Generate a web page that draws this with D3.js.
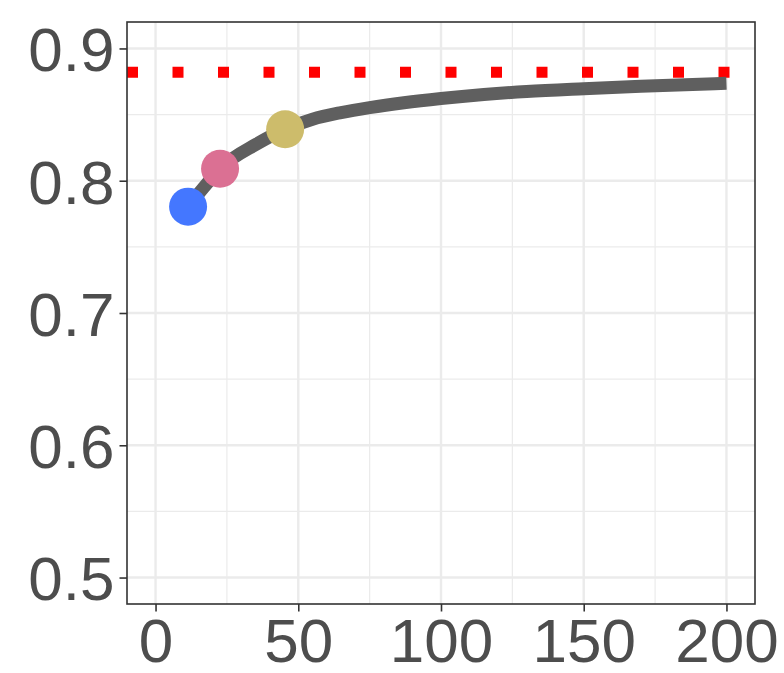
<!DOCTYPE html>
<html>
<head>
<meta charset="utf-8">
<script src="https://cdn.jsdelivr.net/npm/d3@7"></script>
<style>
  body { margin: 0; background: #fff; }
  .axis text { font-family: "Liberation Sans", Arial, sans-serif; }
</style>
</head>
<body>
<div class="chart"></div>
<script>
// curve
const curveX = [11.4, 16.9, 22.6, 35.5, 45.4, 55, 65, 75, 87, 100, 115, 130, 150, 170, 200];
const curveY = [0.7804, 0.795, 0.8091, 0.8278, 0.8389, 0.8465, 0.8515, 0.8553, 0.859, 0.8622, 0.8652, 0.8675, 0.8696, 0.8714, 0.8737];

// highlighted points
const pointX = [11.4, 22.6, 45.4];
const pointY = [0.7804, 0.8091, 0.8389];
const pointColors = ["#4477ff", "#db7093", "#cdbc6b"];

// reference level (red dotted)
const refLevel = 0.882;

const xTicks = [0, 50, 100, 150, 200];
const xMinor = [25, 75, 125, 175];
const yTicks = [0.5, 0.6, 0.7, 0.8, 0.9];
const yMinor = [0.55, 0.65, 0.75, 0.85];

function renderChart() {
    const width = 784, height = 673;
    const panel = {left: 127, right: 755, top: 22, bottom: 604};

    const xScale = d3.scaleLinear()
        .domain([-10, 210])
        .range([panel.left, panel.right]);

    const yScale = d3.scaleLinear()
        .domain([0.48, 0.92])
        .range([panel.bottom, panel.top]);

    const svg = d3.select(".chart").append("svg")
        .attr("width", width)
        .attr("height", height);

    // grid
    const grid = svg.append("g");
    grid.selectAll(".xminor").data(xMinor).enter().append("line")
        .attr("x1", d => xScale(d)).attr("x2", d => xScale(d))
        .attr("y1", panel.top).attr("y2", panel.bottom)
        .attr("stroke", "#ebebeb").attr("stroke-width", 1.2);
    grid.selectAll(".yminor").data(yMinor).enter().append("line")
        .attr("y1", d => yScale(d)).attr("y2", d => yScale(d))
        .attr("x1", panel.left).attr("x2", panel.right)
        .attr("stroke", "#ebebeb").attr("stroke-width", 1.2);
    grid.selectAll(".xmajor").data(xTicks).enter().append("line")
        .attr("x1", d => xScale(d)).attr("x2", d => xScale(d))
        .attr("y1", panel.top).attr("y2", panel.bottom)
        .attr("stroke", "#ebebeb").attr("stroke-width", 2.4);
    grid.selectAll(".ymajor").data(yTicks).enter().append("line")
        .attr("y1", d => yScale(d)).attr("y2", d => yScale(d))
        .attr("x1", panel.left).attr("x2", panel.right)
        .attr("stroke", "#ebebeb").attr("stroke-width", 2.4);

    // red dotted reference line
    svg.append("line")
        .attr("x1", panel.left).attr("x2", panel.right)
        .attr("y1", yScale(refLevel)).attr("y2", yScale(refLevel))
        .attr("stroke", "#ff0000")
        .attr("stroke-width", 11)
        .attr("stroke-dasharray", "11 34.5");

    // curve
    const line = d3.line()
        .x(d => xScale(d[0]))
        .y(d => yScale(d[1]))
        .curve(d3.curveMonotoneX);

    svg.append("path")
        .datum(curveX.map((x, i) => [x, curveY[i]]))
        .attr("d", line)
        .attr("fill", "none")
        .attr("stroke", "#5f5f5f")
        .attr("stroke-width", 13);

    // points
    svg.selectAll("circle")
        .data(pointX)
        .enter()
        .append("circle")
        .attr("cx", d => xScale(d))
        .attr("cy", (d, i) => yScale(pointY[i]))
        .attr("r", 19)
        .attr("fill", (d, i) => pointColors[i]);

    // panel border
    svg.append("rect")
        .attr("x", panel.left).attr("y", panel.top)
        .attr("width", panel.right - panel.left)
        .attr("height", panel.bottom - panel.top)
        .attr("fill", "none")
        .attr("stroke", "#333333")
        .attr("stroke-width", 1.6);

    const xAxis = d3.axisBottom(xScale)
        .tickValues(xTicks)
        .tickFormat(d3.format("d"))
        .tickSize(7.5)
        .tickPadding(6);

    const yAxis = d3.axisLeft(yScale)
        .tickValues(yTicks)
        .tickFormat(d3.format(".1f"))
        .tickSize(7.5)
        .tickPadding(5);

    const gx = svg.append("g")
        .attr("class", "axis x-axis")
        .attr("transform", `translate(0, ${panel.bottom})`)
        .call(xAxis);

    const gy = svg.append("g")
        .attr("class", "axis y-axis")
        .attr("transform", `translate(${panel.left}, 0)`)
        .call(yAxis);

    [gx, gy].forEach(g => {
        g.select(".domain").remove();
        g.selectAll(".tick line").attr("stroke", "#333333").attr("stroke-width", 1.6);
        g.selectAll(".tick text")
            .attr("fill", "#4d4d4d")
            .style("font-size", "62px");
    });
    gx.selectAll(".tick text").attr("dy", "0.71em");
    gy.selectAll(".tick text").attr("dy", "0.36em");
}

renderChart();
</script>
</body>
</html>
